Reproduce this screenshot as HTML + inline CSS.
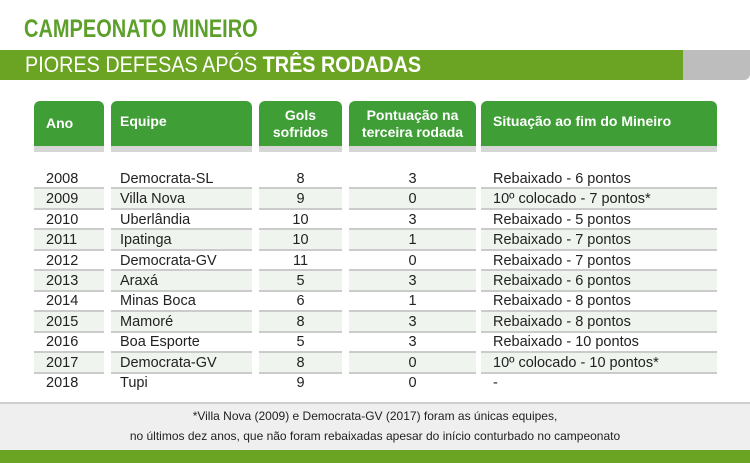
<!DOCTYPE html>
<html><head><meta charset="utf-8"><style>
body{margin:0;width:750px;height:463px;overflow:hidden;background:#fff;font-family:"Liberation Sans",sans-serif;position:relative}
.a{position:absolute}
.h{position:absolute;top:101px;height:45px;background:#3f9e36;border-radius:6px 6px 0 0;color:#fff;font-weight:bold;font-size:14px;display:flex;align-items:center;line-height:17px}
.hs{position:absolute;top:146px;height:6px;background:#d6d6d6}
.c{position:absolute;font-size:14.5px;color:#222;line-height:20px}
</style></head><body>
<div class="a" style="left:24px;top:15px;font-size:25px;font-weight:bold;color:#5c9f2b;transform:scaleX(0.8);transform-origin:0 0;white-space:nowrap">CAMPEONATO MINEIRO</div>
<div class="a" style="left:0;top:50px;width:683px;height:30px;background:#6aa422"></div>
<div class="a" style="left:683px;top:50px;width:67px;height:30px;background:#bdbdbd;border-radius:0 0 6px 0"></div>
<div class="a" style="left:25px;top:53px;font-size:22px;color:#fff;line-height:24px;transform:scaleX(0.9);transform-origin:0 0;white-space:nowrap">PIORES DEFESAS APÓS <b>TRÊS RODADAS</b></div>
<div id="t"></div>
<div class="a" style="left:0;top:402px;width:750px;height:48px;background:#efefef;border-top:2px solid #cfcfcf"></div>
<div class="a" style="left:0;top:406px;width:750px;text-align:center;font-size:12px;line-height:20px;color:#222">*Villa Nova (2009) e Democrata-GV (2017) foram as únicas equipes,<br>no últimos dez anos, que não foram rebaixadas apesar do início conturbado no campeonato</div>
<div class="a" style="left:0;top:450px;width:750px;height:13px;background:#6aa422"></div>
<script>
const years=["2008","2009","2010","2011","2012","2013","2014","2015","2016","2017","2018"];
const teams=["Democrata-SL","Villa Nova","Uberlândia","Ipatinga","Democrata-GV","Araxá","Minas Boca","Mamoré","Boa Esporte","Democrata-GV","Tupi"];
const goals=[8,9,10,10,11,5,6,8,5,8,9];
const points=[3,0,3,1,0,3,1,3,3,0,0];
const status=["Rebaixado - 6 pontos","10º colocado - 7 pontos*","Rebaixado - 5 pontos","Rebaixado - 7 pontos","Rebaixado - 7 pontos","Rebaixado - 6 pontos","Rebaixado - 8 pontos","Rebaixado - 8 pontos","Rebaixado - 10 pontos","10º colocado - 10 pontos*","-"];
const headers=["Ano","Equipe","Gols<br>sofridos","Pontuação na<br>terceira rodada","Situação ao fim do Mineiro"];
const cols=[[34,104,"left",12],[111,252,"left",9],[259,342,"center",0],[349,476,"center",0],[481,717,"left",12]];
const T=document.getElementById('t');
cols.forEach((c,j)=>{
 const h=document.createElement('div');h.className='h';
 
 
 h.style.left=c[0]+'px';h.style.width=(c[1]-c[0])+'px';
 h.style.justifyContent=c[2]=='center'?'center':'flex-start';h.style.textAlign=c[2];
 h.style.paddingLeft=c[3]+'px';h.style.boxSizing='border-box';
 if(j==1||j==4)h.style.paddingBottom='4px';
 h.innerHTML=headers[j];T.appendChild(h);
 const s=document.createElement('div');s.className='hs';
 
 
 s.style.left=c[0]+'px';s.style.width=(c[1]-c[0])+'px';T.appendChild(s);
});
years.forEach((y,i)=>{
 const cy=178+i*20.4;
 const vals=[y,teams[i],goals[i],points[i],status[i]];
 cols.forEach((c,j)=>{
  if(i%2==1){
   const b=document.createElement('div');b.className='a';
   
   
   b.style.cssText=`left:${c[0]}px;width:${c[1]-c[0]}px;top:${cy-11}px;height:19px;background:#eff4ee;border-top:2px solid #cbcbcb;border-bottom:2px solid #cbcbcb`;
   T.appendChild(b);
  }
  const d=document.createElement('div');d.className='c';
  
  
  d.style.left=(c[0]+c[3])+'px';d.style.width=(c[1]-c[0]-c[3])+'px';d.style.textAlign=c[2];
  d.style.top=(cy-9)+'px';d.textContent=vals[j];T.appendChild(d);
 });
});
</script>
</body></html>
